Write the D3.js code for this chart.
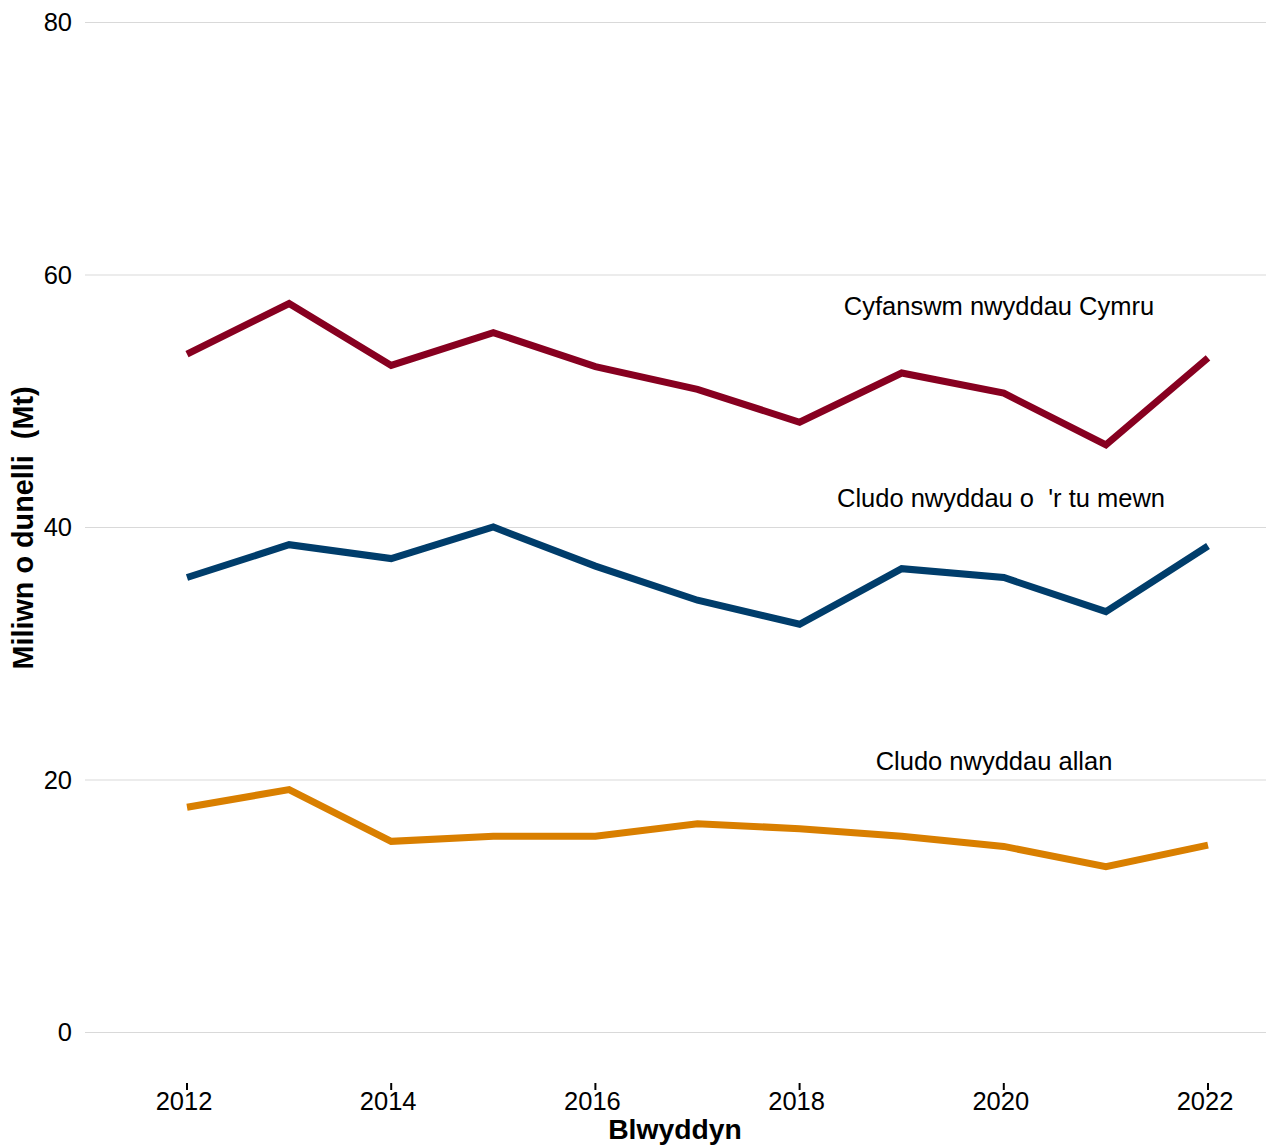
<!DOCTYPE html>
<html><head><meta charset="utf-8">
<script src="https://cdn.jsdelivr.net/npm/d3@7"></script>
<style>body{margin:0;background:#fff}svg{display:block}text{font-family:"Liberation Sans",Arial,sans-serif}</style>
</head><body>
<svg id="c" width="1266" height="1147"></svg>
<script>
const years = [2012,2013,2014,2015,2016,2017,2018,2019,2020,2021,2022];
const totalWales = [53.7,57.7,52.8,55.4,52.7,50.9,48.3,52.2,50.6,46.5,53.4];
const inbound = [36.0,38.6,37.5,40.0,36.9,34.2,32.3,36.7,36.0,33.3,38.5];
const outbound = [17.8,19.2,15.1,15.5,15.5,16.5,16.1,15.5,14.7,13.1,14.8];
const seriesNames = ["Cyfanswm nwyddau Cymru","Cludo nwyddau o  'r tu mewn","Cludo nwyddau allan"];
const colors = ["#870020","#003D6B","#D97F00"];
const yTicks = [0,20,40,60,80];
const xTicks = [2012,2014,2016,2018,2020,2022];
const xTitle = "Blwyddyn";
const yTitle = "Miliwn o dunelli  (Mt)";

const svg = d3.select("#c");
const x = d3.scaleLinear().domain([2012,2022]).range([187,1208]);
const y = d3.scaleLinear().domain([0,80]).range([1032,22]);

// gridlines
svg.append("g").selectAll("line").data(yTicks).join("line")
  .attr("x1",85).attr("x2",1266).attr("y1",d=>y(d)+0.5).attr("y2",d=>y(d)+0.5)
  .attr("stroke","#d9d9d9").attr("stroke-width",1);
// y labels
svg.append("g").selectAll("text").data(yTicks).join("text")
  .attr("x",72).attr("y",d=>y(d)).attr("dy","0.36em").attr("text-anchor","end")
  .attr("font-size",25.5).attr("fill","#000").text(d=>d);

// x axis ticks
const xa = svg.append("g");
xa.selectAll("text").data(xTicks).join("text")
  .attr("x",d=>x(d)-3).attr("y",1110).attr("text-anchor","middle")
  .attr("font-size",25.5).attr("fill","#000").text(d=>d);
xa.selectAll("line").data(xTicks).join("line")
  .attr("x1",d=>x(d)).attr("x2",d=>x(d)).attr("y1",1083).attr("y2",1090)
  .attr("stroke","#000").attr("stroke-width",2);

// lines
const data = [totalWales,inbound,outbound];
const line = d3.line().x((d,i)=>x(years[i])).y(d=>y(d));
svg.append("g").selectAll("path").data(data).join("path")
  .attr("d",line).attr("fill","none").attr("stroke",(d,i)=>colors[i])
  .attr("stroke-width",7).attr("stroke-linejoin","miter");

// series labels
const labelPos = [[999,315],[1001,507],[994,770]];
svg.append("g").selectAll("text").data(seriesNames).join("text")
  .attr("x",(d,i)=>labelPos[i][0]).attr("y",(d,i)=>labelPos[i][1])
  .attr("text-anchor","middle").attr("font-size",25.5).attr("fill","#000")
  .style("white-space","pre").text(d=>d);

// axis titles
svg.append("text").attr("x",675).attr("y",1139).attr("text-anchor","middle")
  .attr("font-size",28.3).attr("font-weight","bold").text(xTitle);
svg.append("text").attr("transform","translate(33,528) rotate(-90)")
  .attr("text-anchor","middle").attr("font-size",28.8).attr("font-weight","bold")
  .style("white-space","pre").text(yTitle);
</script>
</body></html>
